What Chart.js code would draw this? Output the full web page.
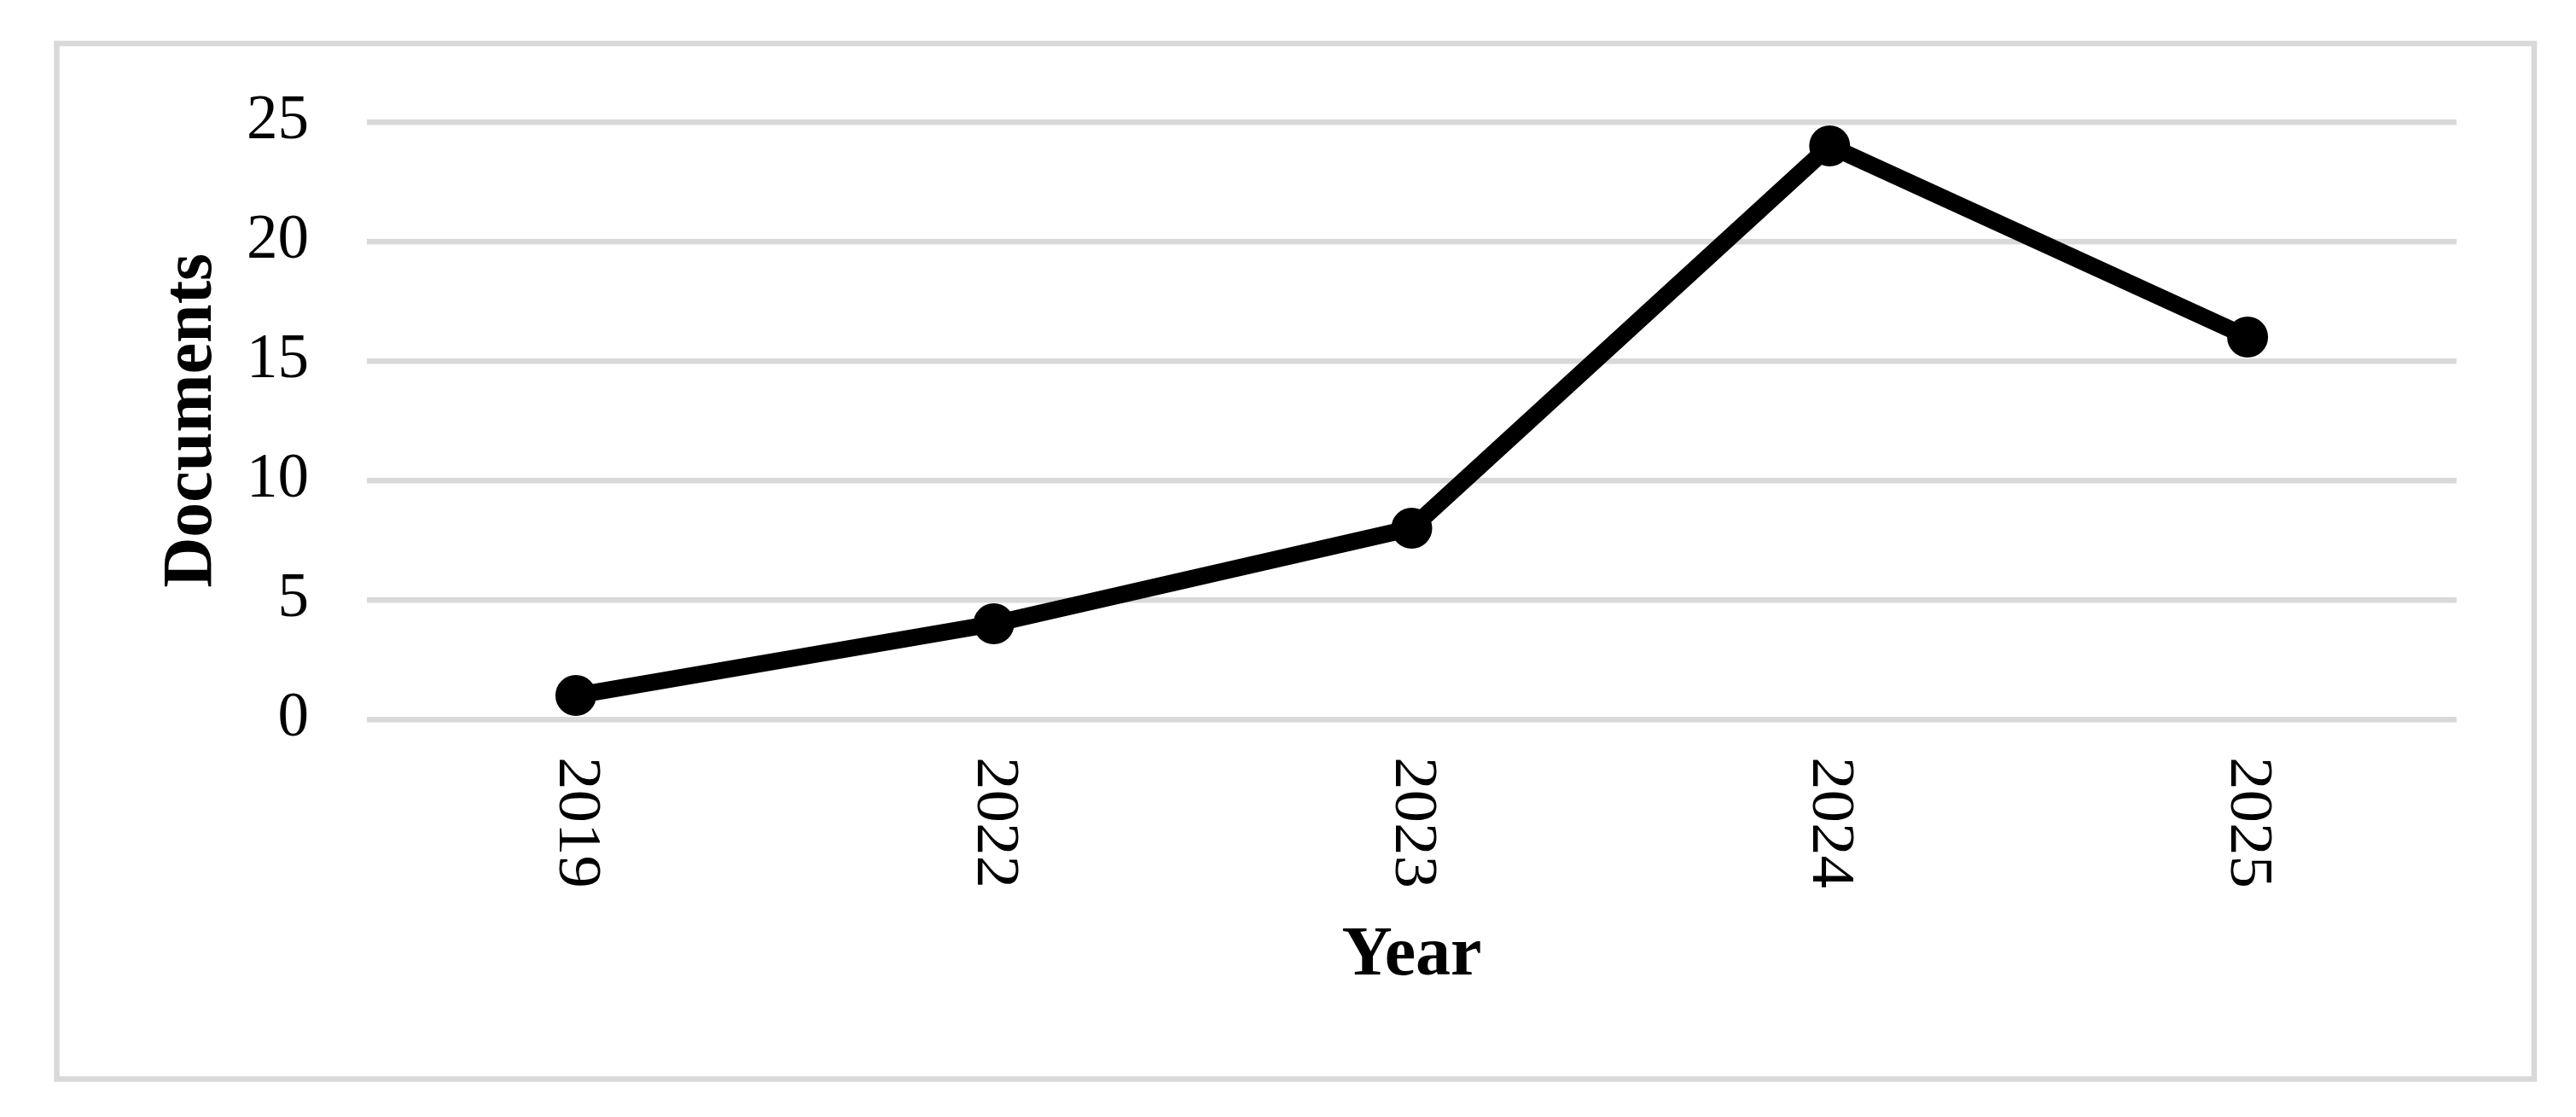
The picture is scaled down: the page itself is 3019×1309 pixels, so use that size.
<!DOCTYPE html>
<html>
<head>
<meta charset="utf-8">
<script src="https://cdn.jsdelivr.net/npm/chart.js@4/dist/chart.umd.min.js"></script>
<style>
  html, body { margin: 0; padding: 0; background: #ffffff; overflow: hidden; }
  #wrap { position: relative; width: 3019px; height: 1309px; }
</style>
</head>
<body>
<div id="wrap"><canvas id="c"></canvas></div>
<script>
// ---- data ----
const years = ["2019", "2022", "2023", "2024", "2025"];
const documents = [1, 4, 8, 24, 16];
const yTicks = [0, 5, 10, 15, 20, 25];
const xTitle = "Year";
const yTitle = "Documents";

const SERIF = "'Liberation Serif', 'Times New Roman', serif";
const GRID = "#d9d9d9";

const frameAndLabels = {
  id: 'frameAndLabels',
  beforeDraw(chart) {
    const ctx = chart.ctx;
    ctx.save();
    ctx.fillStyle = '#ffffff';
    ctx.fillRect(0, 0, chart.width, chart.height);
    ctx.strokeStyle = GRID;
    ctx.lineWidth = 6.5;
    ctx.strokeRect(66.5, 51, 2970 - 66.5, 1264.5 - 51);
    ctx.restore();
  },
  afterDraw(chart) {
    const ctx = chart.ctx;
    const xs = chart.scales.x;
    ctx.save();
    ctx.fillStyle = '#000000';
    ctx.font = "72px " + SERIF;
    ctx.textAlign = 'left';
    ctx.textBaseline = 'middle';
    years.forEach((lab, i) => {
      const px = xs.getPixelForTick(i);
      ctx.save();
      ctx.translate(px, chart.chartArea.bottom + 44);
      ctx.rotate(Math.PI / 2);
      ctx.scale(1.07, 1);
      ctx.fillText(lab, 0, 0);
      ctx.restore();
    });
    ctx.restore();
  }
};

new Chart(document.getElementById('c'), {
  type: 'line',
  data: {
    labels: years,
    datasets: [{
      data: documents,
      borderColor: '#000000',
      backgroundColor: '#000000',
      borderWidth: 20,
      borderJoinStyle: 'round',
      pointRadius: 24,
      pointHoverRadius: 24,
      pointBorderWidth: 0,
      pointBackgroundColor: '#000000',
      tension: 0,
      fill: false,
      clip: false
    }]
  },
  options: {
    responsive: true,
    maintainAspectRatio: false,
    animation: false,
    devicePixelRatio: 1,
    layout: { padding: { left: 0, top: 143, right: 140, bottom: 0 } },
    plugins: { legend: { display: false }, tooltip: { enabled: false }, title: { display: false } },
    scales: {
      x: {
        type: 'category',
        offset: true,
        grid: { display: false, drawTicks: false },
        border: { display: false },
        ticks: { display: false },
        title: {
          display: true, text: xTitle, color: '#000000',
          font: { family: SERIF, size: 82, weight: 'bold', lineHeight: 1.2 },
          padding: { top: 0, bottom: 139 }
        },
        afterFit(s) { s.height = 466; }
      },
      y: {
        min: 0, max: 25,
        afterBuildTicks(s) { s.ticks = yTicks.map(v => ({ value: v })); },
        grid: { color: GRID, lineWidth: 6.5, drawTicks: false },
        border: { display: false },
        ticks: {
          color: '#000000', padding: 68,
          font: { family: SERIF, size: 73 }
        },
        title: {
          display: true, text: yTitle, color: '#000000',
          font: { family: SERIF, size: 82, weight: 'bold', lineHeight: 1.2 },
          padding: { top: 177, bottom: 0 }
        },
        afterFit(s) { s.width = 430; }
      }
    }
  },
  plugins: [frameAndLabels]
});
</script>
</body>
</html>
